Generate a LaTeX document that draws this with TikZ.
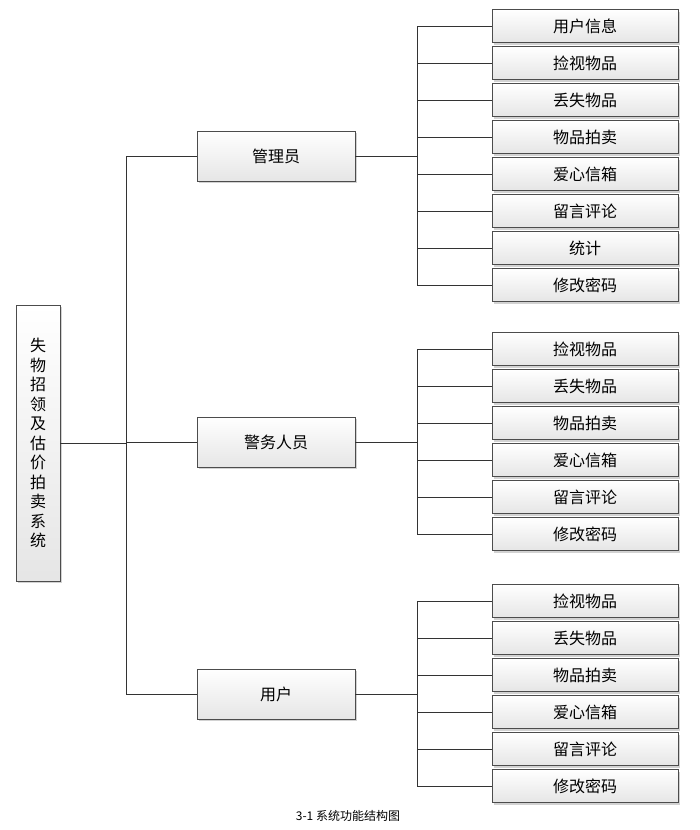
\documentclass[tikz,border=0pt]{standalone}
\usepackage{fontspec}
\setmainfont{Noto Sans CJK SC}
\usetikzlibrary{positioning}
\usetikzlibrary{shadows}
\begin{document}
\begin{tikzpicture}[
	x=1pt, y=-1pt,
	box/.style={draw=black!70, top color=white, bottom color=black!10, drop shadow={shadow xshift=2pt, shadow yshift=-2pt, fill=black!35}, font=\fontsize{16}{18}\selectfont, inner sep=0pt},
	leaf/.style={box, minimum width=186pt, minimum height=33pt},
	role/.style={box, minimum width=158pt, minimum height=50pt},
	link/.style={draw=black!80, line width=0.6pt},
]
\useasboundingbox (0,0) rectangle (700,830);

\node[box, minimum width=44pt, minimum height=276pt, align=center, font=\fontsize{16}{19.5}\selectfont](root) at (38,443) {失\\物\\招\\领\\及\\估\\价\\拍\\卖\\系\\统};

\node[role](mgr) at (276,156) {管理员};
\node[role](pol) at (276,442) {警务人员};
\node[role](usr) at (276,694) {用户};

% spine
\coordinate (spine) at (126,443);
\draw[link] (root.east) -- (spine);
\draw[link] (spine) |- (mgr.west);
\draw[link] (spine) |- (pol.west);
\draw[link] (spine) |- (usr.west);

% leaves of the admin
\foreach \t [count=\i] in {用户信息,捡视物品,丢失物品,物品拍卖,爱心信箱,留言评论,统计,修改密码}
{
	\node[leaf](m\i) at (585,{26+37*(\i-1)}) {\t};
	\draw[link] (mgr.east) -- (417,156) |- (m\i.west);
}

% leaves of the police
\foreach \t [count=\i] in {捡视物品,丢失物品,物品拍卖,爱心信箱,留言评论,修改密码}
{
	\node[leaf](p\i) at (585,{349+37*(\i-1)}) {\t};
	\draw[link] (pol.east) -- (417,442) |- (p\i.west);
}

% leaves of the user
\foreach \t [count=\i] in {捡视物品,丢失物品,物品拍卖,爱心信箱,留言评论,修改密码}
{
	\node[leaf](u\i) at (585,{601+37*(\i-1)}) {\t};
	\draw[link] (usr.east) -- (417,694) |- (u\i.west);
}

\node[font=\fontsize{12}{14}\selectfont](cap) at (348,816) {3-1 系统功能结构图};
\end{tikzpicture}
\end{document}
